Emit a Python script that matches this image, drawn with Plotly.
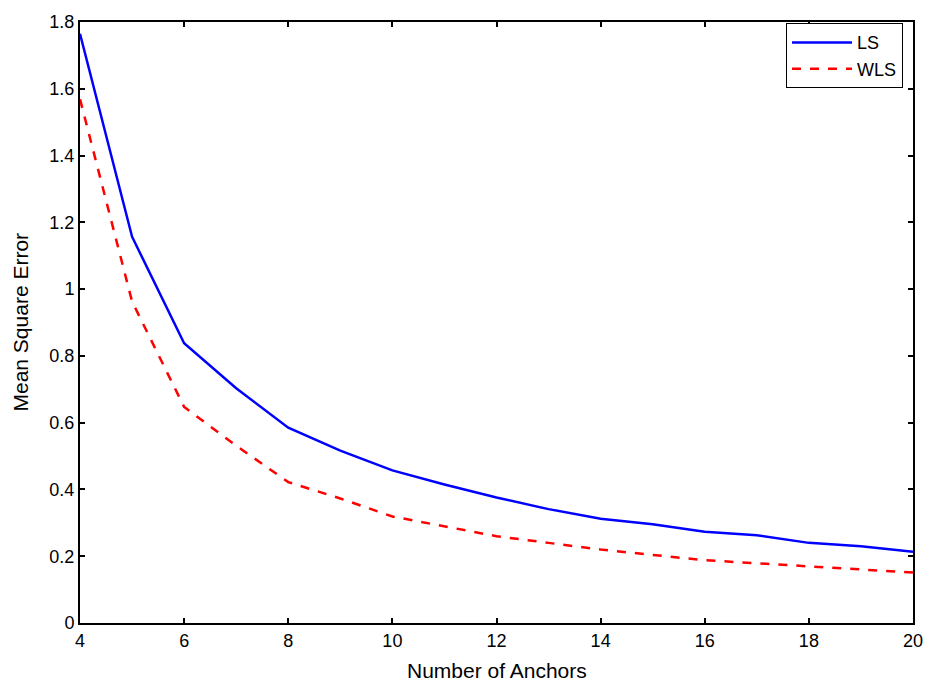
import plotly.graph_objects as go

anchors = [4, 5, 6, 7, 8, 9, 10, 11, 12, 13, 14, 15, 16, 17, 18, 19, 20]
ls_mse = [1.765, 1.157, 0.838, 0.703, 0.585, 0.516, 0.457, 0.415, 0.376, 0.341,
          0.312, 0.296, 0.273, 0.263, 0.240, 0.230, 0.213]
wls_mse = [1.569, 0.963, 0.647, 0.531, 0.422, 0.373, 0.319, 0.289, 0.260, 0.240,
           0.220, 0.204, 0.188, 0.179, 0.169, 0.161, 0.151]

x_ticks = [4, 6, 8, 10, 12, 14, 16, 18, 20]
y_ticks = [0, 0.2, 0.4, 0.6, 0.8, 1.0, 1.2, 1.4, 1.6, 1.8]
y_labels = ["0", "0.2", "0.4", "0.6", "0.8", "1", "1.2", "1.4", "1.6", "1.8"]

fig = go.Figure()
fig.add_trace(go.Scatter(x=anchors, y=ls_mse, mode="lines", name="LS",
                         line=dict(color="#0000ff", width=2.5)))
fig.add_trace(go.Scatter(x=anchors, y=wls_mse, mode="lines", name="WLS",
                         line=dict(color="#ff0000", width=2.5, dash="dash")))

axis_common = dict(showgrid=False, zeroline=False, showline=True, linecolor="black",
                   linewidth=2, mirror="ticks", ticks="inside", ticklen=5,
                   tickcolor="black", tickwidth=1.5,
                   tickfont=dict(family="Liberation Sans, Arial", size=18, color="black"))

fig.update_layout(
    width=929, height=686,
    margin=dict(l=80, r=16, t=12, b=63),
    paper_bgcolor="white", plot_bgcolor="white",
    font=dict(family="Liberation Sans, Arial", color="black"),
    xaxis=dict(range=[4, 20], tickvals=x_ticks, ticktext=[str(v) for v in x_ticks],
               automargin=False, **axis_common),
    yaxis=dict(range=[0, 1.8], tickvals=y_ticks, ticktext=y_labels, **axis_common),
    annotations=[
        dict(text="Mean Square Error", xref="paper", yref="paper",
             x=-0.072, y=0.5, xanchor="center", yanchor="middle",
             textangle=-90, showarrow=False, font=dict(size=21, color="black")),
        dict(text="Number of Anchors", xref="paper", yref="paper",
             x=0.5, y=-0.079, xanchor="center", yanchor="middle",
             showarrow=False, font=dict(size=21, color="black")),
    ],
    legend=dict(x=0.988, y=0.998, xanchor="right", yanchor="top",
                bgcolor="white", bordercolor="black", borderwidth=1,
                font=dict(size=18), itemwidth=60),
    showlegend=True,
)

fig.write_html("out.html")
